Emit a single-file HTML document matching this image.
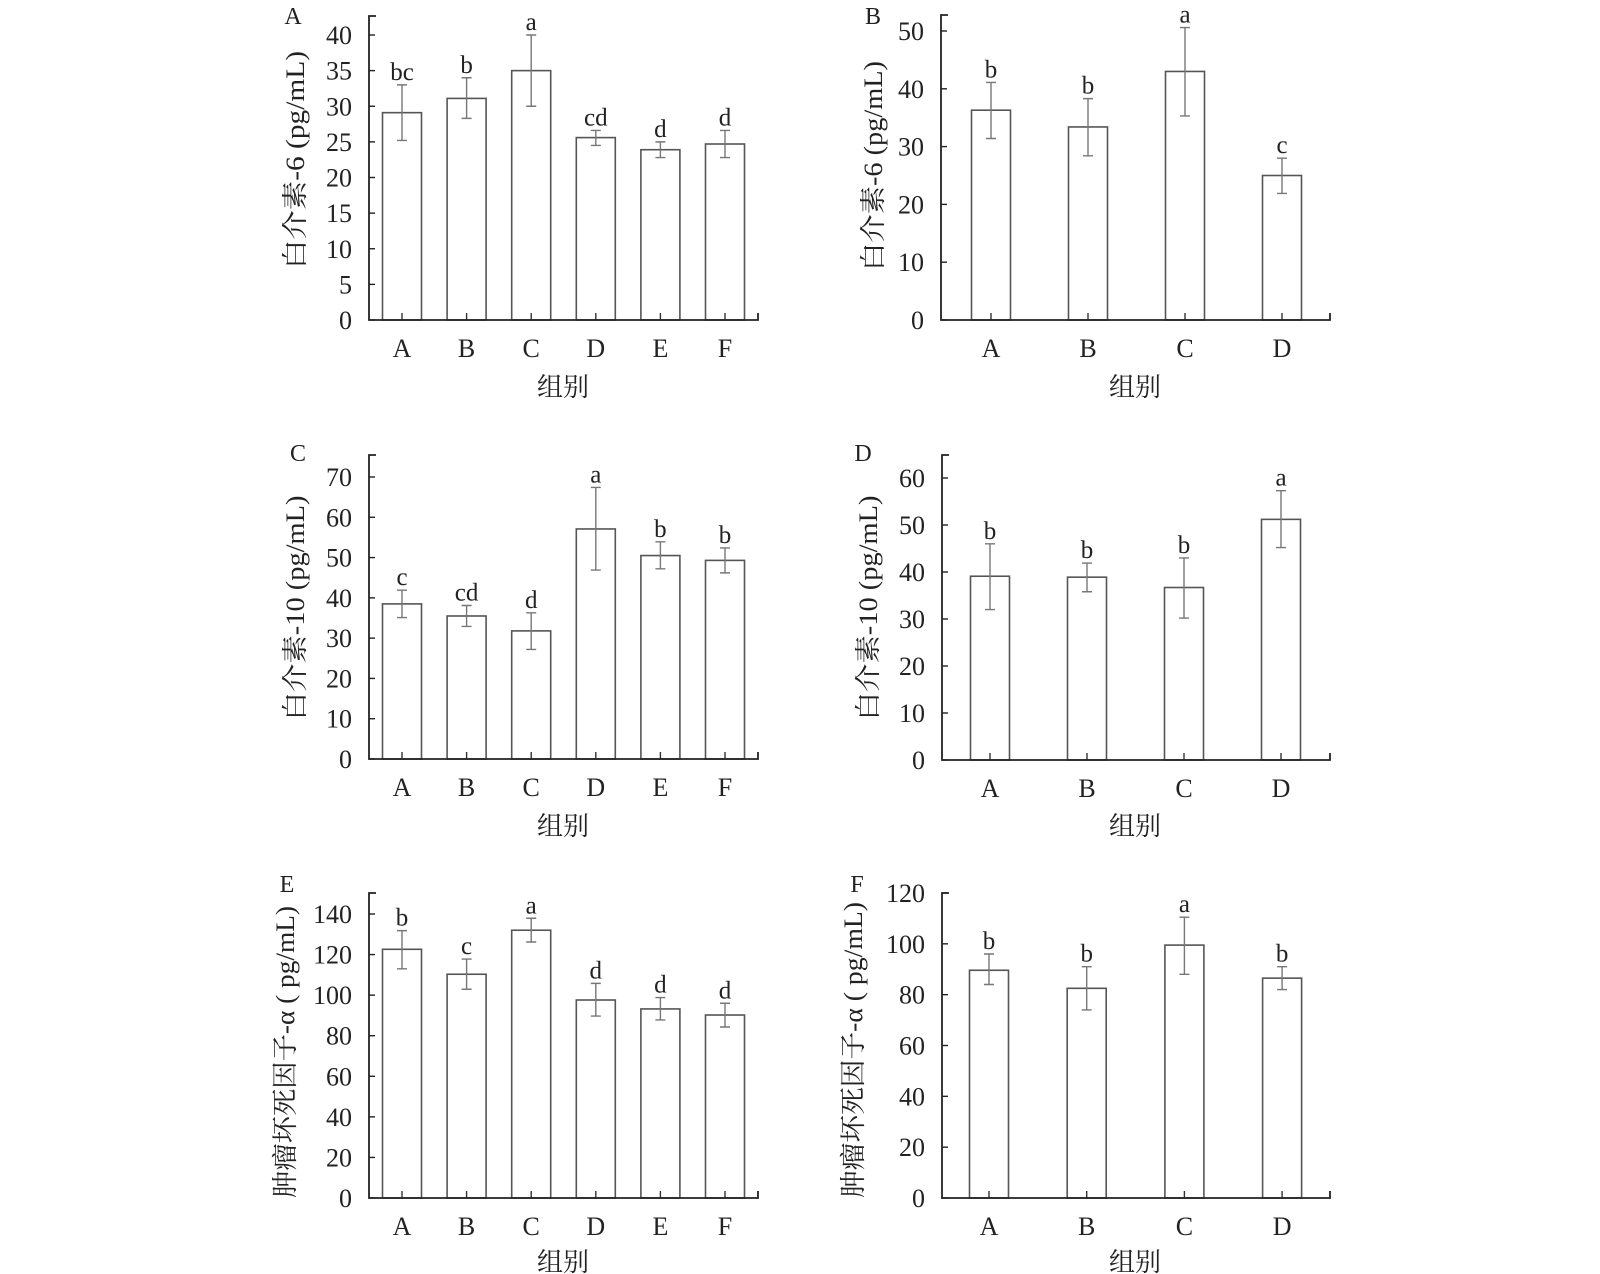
<!DOCTYPE html>
<html><head><meta charset="utf-8"><style>
html,body{margin:0;padding:0;background:#fff;}
svg{display:block;font-family:"Liberation Serif","Noto Serif CJK SC","Noto Sans CJK SC",serif;}
</style></head><body>
<svg id="fig" width="1600" height="1274" viewBox="0 0 1600 1274" xmlns="http://www.w3.org/2000/svg"></svg>
<script>
// Panel data
const catsA = ["A","B","C","D","E","F"];
const valsA = [29.1,31.1,35.0,25.6,23.9,24.7];
const errLoA = [25.2,28.3,30.0,24.5,22.8,22.8];
const errHiA = [33.0,34.0,40.0,26.6,25.0,26.6];
const sigA = ["bc","b","a","cd","d","d"];
const ticksA = [0,5,10,15,20,25,30,35,40];

const catsB = ["A","B","C","D"];
const valsB = [36.3,33.4,43.0,25.0];
const errLoB = [31.4,28.4,35.3,21.9];
const errHiB = [41.1,38.3,50.6,28.0];
const sigB = ["b","b","a","c"];
const ticksB = [0,10,20,30,40,50];

const catsC = ["A","B","C","D","E","F"];
const valsC = [38.5,35.5,31.8,57.1,50.5,49.3];
const errLoC = [35.1,32.9,27.2,46.9,47.2,46.2];
const errHiC = [41.9,38.1,36.3,67.4,53.9,52.4];
const sigC = ["c","cd","d","a","b","b"];
const ticksC = [0,10,20,30,40,50,60,70];

const catsD = ["A","B","C","D"];
const valsD = [39.1,38.9,36.7,51.2];
const errLoD = [32.0,35.8,30.2,45.2];
const errHiD = [46.0,41.9,43.0,57.3];
const sigD = ["b","b","b","a"];
const ticksD = [0,10,20,30,40,50,60];

const catsE = ["A","B","C","D","E","F"];
const valsE = [122.6,110.3,132.0,97.6,93.2,90.2];
const errLoE = [113.0,102.9,126.2,89.7,87.8,84.3];
const errHiE = [131.8,117.8,137.9,105.8,98.8,96.0];
const sigE = ["b","c","a","d","d","d"];
const ticksE = [0,20,40,60,80,100,120,140];

const catsF = ["A","B","C","D"];
const valsF = [89.6,82.5,99.5,86.5];
const errLoF = [84.0,74.0,88.0,82.0];
const errHiF = [96.0,91.0,110.5,91.0];
const sigF = ["b","b","a","b"];
const ticksF = [0,20,40,60,80,100,120];

const NS = "http://www.w3.org/2000/svg";
const svg = document.getElementById("fig");
function mk(tag, attrs, parent){
  const e = document.createElementNS(NS, tag);
  for (const k in attrs) e.setAttribute(k, attrs[k]);
  (parent||svg).appendChild(e);
  return e;
}

const panels = [
  {id:"a", letter:"A", lx:293, ly:24, cats:catsA, vals:valsA, lo:errLoA, hi:errHiA, sig:sigA, ticks:ticksA,
   ax:369, axEnd:758, top:16, y0:320, yMaxPx:35, first:402, step:64.6, title:"白介素-6 (pg/mL)", tx:295, ty:160, tlen:218, xl:563, xly:396},
  {id:"b", letter:"B", lx:873, ly:24, cats:catsB, vals:valsB, lo:errLoB, hi:errHiB, sig:sigB, ticks:ticksB,
   ax:941, axEnd:1330, top:15, y0:320, yMaxPx:31, first:991, step:97, title:"白介素-6 (pg/mL)", tx:873, ty:166, tlen:210, xl:1135, xly:396},
  {id:"c", letter:"C", lx:298, ly:461, cats:catsC, vals:valsC, lo:errLoC, hi:errHiC, sig:sigC, ticks:ticksC,
   ax:369, axEnd:758, top:455, y0:759, yMaxPx:477, first:402, step:64.6, title:"白介素-10 (pg/mL)", tx:295, ty:608, tlen:225, xl:563, xly:835},
  {id:"d", letter:"D", lx:863, ly:461, cats:catsD, vals:valsD, lo:errLoD, hi:errHiD, sig:sigD, ticks:ticksD,
   ax:942, axEnd:1330, top:455, y0:760, yMaxPx:478, first:990, step:97, title:"白介素-10 (pg/mL)", tx:868, ty:608, tlen:225, xl:1135, xly:835},
  {id:"e", letter:"E", lx:287, ly:892, cats:catsE, vals:valsE, lo:errLoE, hi:errHiE, sig:sigE, ticks:ticksE,
   ax:369, axEnd:758, top:893, y0:1198, yMaxPx:914, first:402, step:64.6, title:"肿瘤坏死因子-α ( pg/mL)", tx:285, ty:1052, tlen:292, xl:563, xly:1271},
  {id:"f", letter:"F", lx:857, ly:892, cats:catsF, vals:valsF, lo:errLoF, hi:errHiF, sig:sigF, ticks:ticksF,
   ax:942, axEnd:1330, top:893, y0:1198, yMaxPx:893, first:989, step:97.7, title:"肿瘤坏死因子-α ( pg/mL)", tx:853, ty:1050, tlen:296, xl:1135, xly:1271}
];

panels.forEach(p => {
  const g = mk("g", {});
  
  
  const tmax = p.ticks[p.ticks.length-1];
  const yS = v => p.y0 - (v / tmax) * (p.y0 - p.yMaxPx);
  const xS = i => p.first + i * p.step;
  const bw = 39;

  p.vals.forEach((v,i) => {
    const r = mk("rect", {x:xS(i)-bw/2, y:yS(v), width:bw, height:p.y0-yS(v), fill:"#fff", stroke:"#555", "stroke-width":1.6}, g);
    
    
    const eb = mk("path", {d:`M${xS(i)},${yS(p.hi[i])}V${yS(p.lo[i])}M${xS(i)-5},${yS(p.hi[i])}h10M${xS(i)-5},${yS(p.lo[i])}h10`, stroke:"#777", "stroke-width":1.4, fill:"none"}, g);
    
    
    const s = mk("text", {x:xS(i), y:yS(p.hi[i])-5, "text-anchor":"middle", "font-size":25, fill:"#222"}, g);
    s.textContent = p.sig[i];
    
    
    mk("line", {x1:xS(i), y1:p.y0, x2:xS(i), y2:p.y0-7, stroke:"#333", "stroke-width":1.4}, g);
    const xl = mk("text", {x:xS(i), y:p.y0+37, "text-anchor":"middle", "font-size":26, fill:"#222"}, g);
    xl.textContent = p.cats[i];
    
    
  });

  const ya = mk("path", {d:`M${p.ax+7},${p.top}H${p.ax}V${p.y0}H${p.axEnd}V${p.y0-7}`, stroke:"#222", "stroke-width":1.8, fill:"none"}, g);
  
  
  p.ticks.forEach(t => {
    mk("line", {x1:p.ax, y1:yS(t), x2:p.ax+6, y2:yS(t), stroke:"#222", "stroke-width":1.4}, g);
    const tl = mk("text", {x:p.ax-17, y:yS(t)+9, "text-anchor":"end", "font-size":26, fill:"#222"}, g);
    tl.textContent = t;
    
    
  });

  const yt = mk("text", {x:0, y:0, "text-anchor":"middle", "font-size":26, fill:"#222", textLength:p.tlen, lengthAdjust:"spacingAndGlyphs", transform:`translate(${p.tx+9},${p.ty}) rotate(-90)`}, g);
  yt.textContent = p.title;
  
  

  const xt = mk("text", {x:p.xl, y:p.xly, "text-anchor":"middle", "font-size":26, fill:"#222"}, g);
  xt.textContent = "组别";
  
  

  const pl = mk("text", {x:p.lx, y:p.ly, "text-anchor":"middle", "font-size":24, fill:"#222"}, g);
  pl.textContent = p.letter;
  
  
});
</script>
</body></html>
